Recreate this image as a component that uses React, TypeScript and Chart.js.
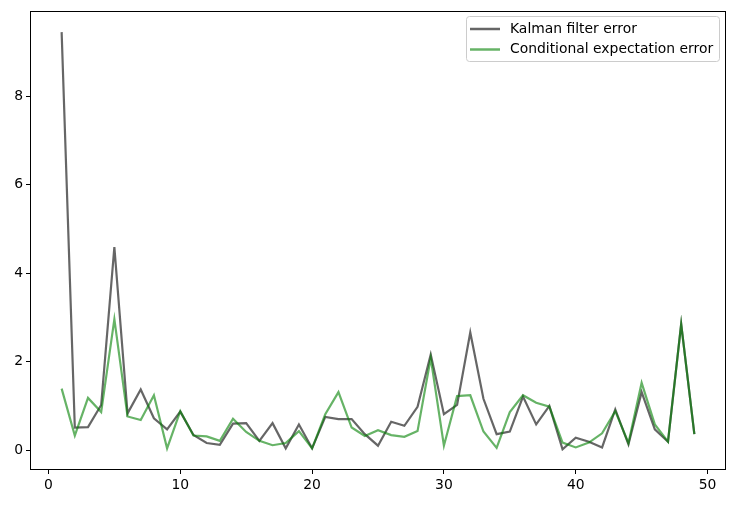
import React, { useEffect, useRef } from "react";
import { Chart, registerables } from "chart.js";

Chart.register(...registerables);

const steps = [1, 2, 3, 4, 5, 6, 7, 8, 9, 10, 11, 12, 13, 14, 15, 16, 17, 18, 19, 20, 21, 22, 23, 24, 25, 26, 27, 28, 29, 30, 31, 32, 33, 34, 35, 36, 37, 38, 39, 40, 41, 42, 43, 44, 45, 46, 47, 48, 49];

const kalmanError = [9.45, 0.51, 0.52, 1.02, 4.59, 0.83, 1.37, 0.72, 0.47, 0.87, 0.34, 0.16, 0.12, 0.6, 0.61, 0.21, 0.61, 0.04, 0.58, 0.04, 0.75, 0.7, 0.7, 0.36, 0.1, 0.64, 0.55, 0.98, 2.16, 0.81, 1.02, 2.66, 1.16, 0.36, 0.42, 1.21, 0.58, 1.0, 0.02, 0.28, 0.19, 0.06, 0.92, 0.13, 1.31, 0.47, 0.19, 2.85, 0.36];

const condExpError = [1.39, 0.33, 1.18, 0.86, 2.96, 0.76, 0.68, 1.24, 0.04, 0.88, 0.33, 0.31, 0.21, 0.71, 0.41, 0.21, 0.11, 0.16, 0.43, 0.04, 0.81, 1.31, 0.51, 0.32, 0.45, 0.34, 0.3, 0.43, 2.08, 0.1, 1.22, 1.24, 0.42, 0.05, 0.86, 1.24, 1.07, 0.98, 0.17, 0.06, 0.17, 0.38, 0.88, 0.16, 1.52, 0.58, 0.19, 2.85, 0.36];

const xTicks = [0, 10, 20, 30, 40, 50];
const yTicks = [0, 2, 4, 6, 8];

const FONT = "'DejaVu Sans', sans-serif";
const FS = 13.9;
const GRAY = "rgba(0,0,0,0.6)";
const GREEN = "rgba(0,128,0,0.6)";

const framePlugin = {
  id: "frame",
  afterDraw(chart: any) {
    const { ctx, chartArea } = chart;
    ctx.save();
    ctx.strokeStyle = "#000";
    ctx.lineWidth = 1;
    const l = Math.round(chartArea.left) + 0.5;
    const t = Math.round(chartArea.top) + 0.5;
    const r = Math.round(chartArea.right) - 0.5;
    const b = Math.round(chartArea.bottom) - 0.5;
    ctx.strokeRect(l, t, r - l, b - t);

    // legend
    const entries = [
      { label: chart.data.datasets[1].label, color: GRAY },
      { label: chart.data.datasets[0].label, color: GREEN },
    ];
    const bx = 466.5, by = 16.5, bw = 253, bh = 45;
    ctx.fillStyle = "rgba(255,255,255,0.8)";
    ctx.strokeStyle = "#cccccc";
    ctx.beginPath();
    const rad = 3;
    ctx.moveTo(bx + rad, by);
    ctx.lineTo(bx + bw - rad, by);
    ctx.quadraticCurveTo(bx + bw, by, bx + bw, by + rad);
    ctx.lineTo(bx + bw, by + bh - rad);
    ctx.quadraticCurveTo(bx + bw, by + bh, bx + bw - rad, by + bh);
    ctx.lineTo(bx + rad, by + bh);
    ctx.quadraticCurveTo(bx, by + bh, bx, by + bh - rad);
    ctx.lineTo(bx, by + rad);
    ctx.quadraticCurveTo(bx, by, bx + rad, by);
    ctx.closePath();
    ctx.fill();
    ctx.stroke();
    ctx.font = `${FS}px ${FONT}`;
    ctx.textBaseline = "middle";
    ctx.textAlign = "left";
    entries.forEach((e, i) => {
      const y = 29 + i * 20.5;
      ctx.strokeStyle = e.color;
      ctx.lineWidth = 2.5;
      ctx.beginPath();
      ctx.moveTo(470, y);
      ctx.lineTo(500, y);
      ctx.stroke();
      ctx.fillStyle = "#000";
      ctx.fillText(e.label, 510, y);
    });
    ctx.restore();
  },
};

export default function App() {
  const ref = useRef<HTMLCanvasElement>(null);
  useEffect(() => {
    if (!ref.current) return;
    const chart = new Chart(ref.current, {
      type: "line",
      data: {
        datasets: [
          {
            label: "Conditional expectation error",
            data: steps.map((s, i) => ({ x: s, y: condExpError[i] })),
            borderColor: GREEN,
            borderWidth: 2.2,
            pointRadius: 0,
            tension: 0,
            order: 0,
          },
          {
            label: "Kalman filter error",
            data: steps.map((s, i) => ({ x: s, y: kalmanError[i] })),
            borderColor: GRAY,
            borderWidth: 2.2,
            pointRadius: 0,
            tension: 0,
            order: 1,
          },
        ],
      },
      options: {
        animation: false,
        responsive: false,
        layout: { padding: { top: 10, right: 10, left: 0, bottom: 0 } },
        plugins: { legend: { display: false }, tooltip: { enabled: false } },
        scales: {
          x: {
            type: "linear",
            min: -1.4,
            max: 51.4,
            afterBuildTicks: (s: any) => {
              s.ticks = xTicks.map((v) => ({ value: v }));
            },
            afterFit: (s: any) => {
              s.height = 35;
            },
            grid: {
              drawOnChartArea: false,
              drawTicks: true,
              tickLength: 4,
              color: "#000",
            },
            border: { display: false },
            ticks: {
              color: "#000",
              padding: 3,
              maxRotation: 0,
              font: { family: FONT, size: FS },
            },
          },
          y: {
            type: "linear",
            min: -0.45,
            max: 9.92,
            afterBuildTicks: (s: any) => {
              s.ticks = yTicks.map((v) => ({ value: v }));
            },
            afterFit: (s: any) => {
              s.width = 30;
            },
            grid: {
              drawOnChartArea: false,
              drawTicks: true,
              tickLength: 4,
              color: "#000",
            },
            border: { display: false },
            ticks: {
              color: "#000",
              padding: 3,
              font: { family: FONT, size: FS },
            },
          },
        },
      },
      plugins: [framePlugin],
    });
    return () => chart.destroy();
  }, []);
  return (
    <div style={{ position: "absolute", left: 0, top: 0, width: 736, height: 505, background: "#fff" }}>
      <canvas ref={ref} width={736} height={505} />
    </div>
  );
}
